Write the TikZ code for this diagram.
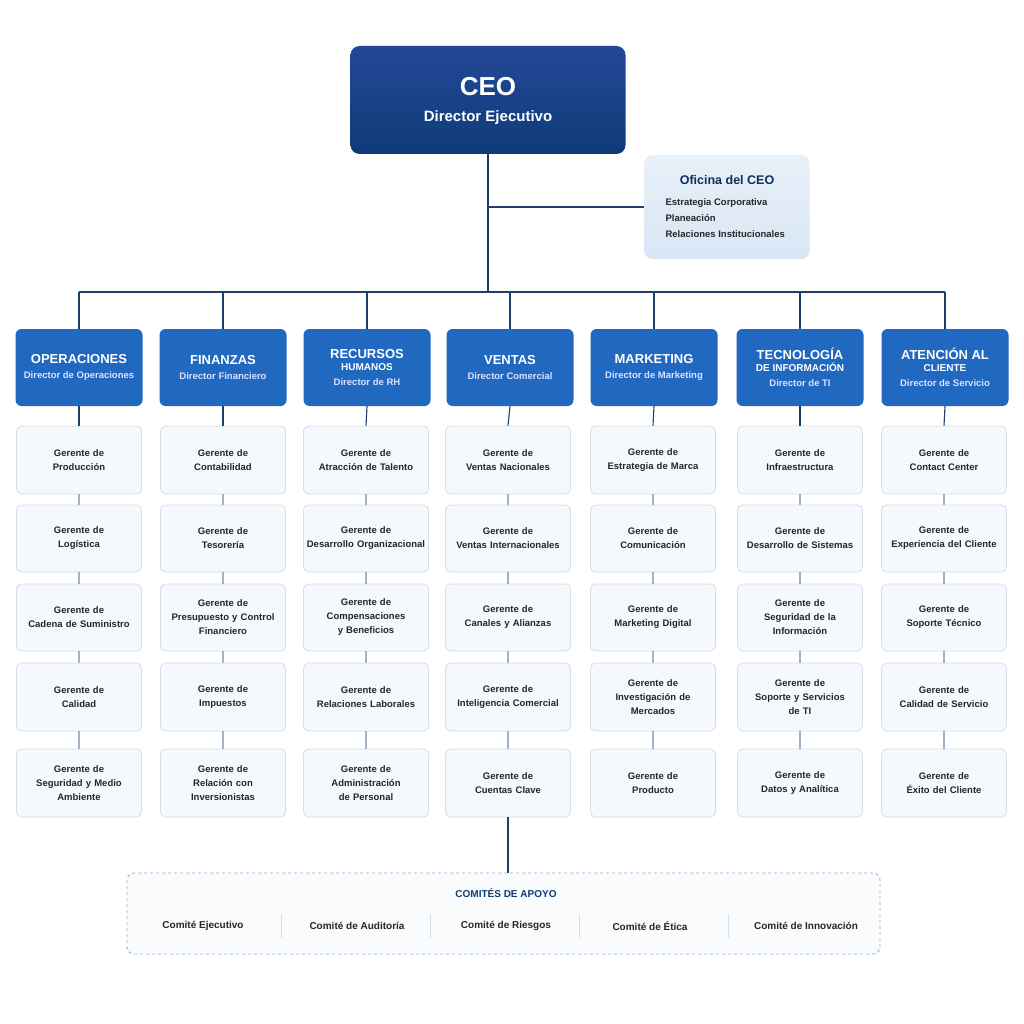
\documentclass[tikz,border=0pt]{standalone}
\usepackage{fontspec}
\setmainfont{Liberation Sans}
\usetikzlibrary{positioning}
\definecolor{ceo}{HTML}{0E3C78}
\definecolor{dir}{HTML}{2068C0}
\definecolor{line}{HTML}{1E3F6E}
\definecolor{mgrfill}{HTML}{F5F8FC}
\definecolor{mgrbd}{HTML}{D5DEEA}
\definecolor{ofi}{HTML}{D9E6F5}
\definecolor{ofit}{HTML}{0E2E5C}
\begin{document}
\begin{tikzpicture}[x=1pt,y=-1pt,
  conn/.style={draw=line,line width=1.1pt},
  dirbox/.style={rectangle,rounded corners=6pt,fill=dir,draw=none,minimum width=127pt,minimum height=77pt,text=white,align=center,font=\bfseries,inner sep=2pt},
  mgr/.style={rectangle,rounded corners=5pt,fill=mgrfill,draw=mgrbd,line width=0.8pt,minimum width=125pt,text width=120pt,align=center,font=\fontsize{9.5}{14}\selectfont\bfseries,text=black!85,inner sep=2pt},
  com/.style={font=\fontsize{10}{12}\selectfont\bfseries,text=black!85}]
\useasboundingbox (0,0) rectangle (1024,1024);
\fill[white] (0,0) rectangle (1024,1024);
% CEO
\node[rectangle,rounded corners=9pt,top color=ceo!85!blue!90!white,bottom color=ceo,draw=none,minimum width=275pt,minimum height=108pt] (ceo) at (488,100) {};
\node[text=white,font=\fontsize{26}{28}\selectfont\bfseries] (ceot) at (488,87) {CEO};
\node[text=white,font=\fontsize{15}{17}\selectfont\bfseries] (ceos) at (488,118) {Director Ejecutivo};
% Oficina
\node[rectangle,rounded corners=8pt,top color=ofi!60!white,bottom color=ofi,draw=none,minimum width=165pt,minimum height=104pt] (ofi) at (727,207) {};
\node[text=ofit,font=\fontsize{12.5}{14}\selectfont\bfseries] (ofit) at (727,180) {Oficina del CEO};
\node[text=black!85,font=\fontsize{9.5}{16}\selectfont\bfseries,align=left,anchor=north west] (ofil) at (662,195) {Estrategia Corporativa\\Planeación\\Relaciones Institucionales};
\coordinate (j1) at (488,207);
\coordinate (bus) at (488,292);
\draw[conn] (ceo.south) -- (bus);
\draw[conn] (j1) -- (ofi.west);
% directors
\foreach \i/\x/\t/\s in {1/79/OPERACIONES/Director de Operaciones,2/223/FINANZAS/Director Financiero,3/367/{RECURSOS\\HUMANOS}/Director de RH,4/510/VENTAS/Director Comercial,5/654/MARKETING/Director de Marketing,6/800/{TECNOLOGÍA\\DE INFORMACIÓN}/Director de TI,7/945/{ATENCIÓN AL\\CLIENTE}/Director de Servicio}{
  \node[dirbox] (d\i) at (\x,367.5) {\fontsize{13}{17}\selectfont \t\\[3pt]\fontsize{9.5}{11}\selectfont\bfseries\color{white!88!blue} \s};
  \coordinate (t\i) at (\x,292);
  \draw[conn] (t\i) -- (d\i.north);
}
\draw[conn] (t1) -- (t7);
% managers
\foreach \i/\x/\a/\b/\c/\d/\e in {
1/79/{Gerente de\\Producción}/{Gerente de\\Logística}/{Gerente de\\Cadena de Suministro}/{Gerente de\\Calidad}/{Gerente de\\Seguridad y Medio\\Ambiente},
2/223/{Gerente de\\Contabilidad}/{Gerente de\\Tesorería}/{Gerente de\\Presupuesto y Control\\Financiero}/{Gerente de\\Impuestos}/{Gerente de\\Relación con\\Inversionistas},
3/366/{Gerente de\\Atracción de Talento}/{Gerente de\\Desarrollo Organizacional}/{Gerente de\\Compensaciones\\y Beneficios}/{Gerente de\\Relaciones Laborales}/{Gerente de\\Administración\\de Personal},
4/508/{Gerente de\\Ventas Nacionales}/{Gerente de\\Ventas Internacionales}/{Gerente de\\Canales y Alianzas}/{Gerente de\\Inteligencia Comercial}/{Gerente de\\Cuentas Clave},
5/653/{Gerente de\\Estrategia de Marca}/{Gerente de\\Comunicación}/{Gerente de\\Marketing Digital}/{Gerente de\\Investigación de\\Mercados}/{Gerente de\\Producto},
6/800/{Gerente de\\Infraestructura}/{Gerente de\\Desarrollo de Sistemas}/{Gerente de\\Seguridad de la\\Información}/{Gerente de\\Soporte y Servicios\\de TI}/{Gerente de\\Datos y Analítica},
7/944/{Gerente de\\Contact Center}/{Gerente de\\Experiencia del Cliente}/{Gerente de\\Soporte Técnico}/{Gerente de\\Calidad de Servicio}/{Gerente de\\Éxito del Cliente}}{
  \node[mgr,minimum height=68pt] (m\i-1) at (\x,460) {\a};
  \node[mgr,minimum height=67pt] (m\i-2) at (\x,538.5) {\b};
  \node[mgr,minimum height=67pt] (m\i-3) at (\x,617.5) {\c};
  \node[mgr,minimum height=68pt] (m\i-4) at (\x,697) {\d};
  \node[mgr,minimum height=68pt] (m\i-5) at (\x,783) {\e};
  \draw[conn] (d\i.south) -- (m\i-1.north);
  \draw[conn,draw=line!40] (m\i-1.south) -- (m\i-2.north);
  \draw[conn,draw=line!40] (m\i-2.south) -- (m\i-3.north);
  \draw[conn,draw=line!40] (m\i-3.south) -- (m\i-4.north);
  \draw[conn,draw=line!40] (m\i-4.south) -- (m\i-5.north);
}
% committees
\node[rectangle,rounded corners=7pt,draw=dir!50,dashed,line width=0.9pt,fill=mgrfill!60!white,minimum width=753pt,minimum height=81pt] (comm) at (503.5,913.5) {};
\draw[conn] (m4-5.south) -- (m4-5.south |- comm.north);
\node[text=ceo,font=\fontsize{10}{12}\selectfont\bfseries] (ct) at (506,893) {COMITÉS DE APOYO};
\node[com] (c1) at (203,926) {Comité Ejecutivo};
\node[com] (c2) at (357,926) {Comité de Auditoría};
\node[com] (c3) at (506,926) {Comité de Riesgos};
\node[com] (c4) at (650,926) {Comité de Ética};
\node[com] (c5) at (806,926) {Comité de Innovación};
\foreach \x/\n in {281/s1,430/s2,579/s3,728/s4}{
  \coordinate (\n a) at (\x,914); \coordinate (\n b) at (\x,938);
  \draw[draw=mgrbd,line width=0.8pt] (\n a) -- (\n b);
}
\end{tikzpicture}
\end{document}
